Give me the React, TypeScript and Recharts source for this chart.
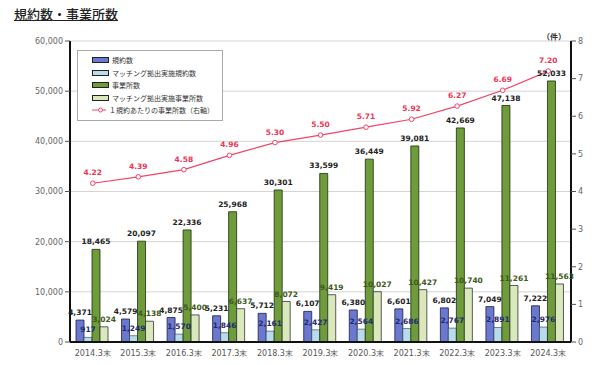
import React from 'react';
import {
  ComposedChart, Bar, Line, XAxis, YAxis, CartesianGrid, Legend, LabelList,
} from 'recharts';

// 年度（各年3月末）
const periods = ['2014.3末', '2015.3末', '2016.3末', '2017.3末', '2018.3末', '2019.3末', '2020.3末', '2021.3末', '2022.3末', '2023.3末', '2024.3末'];
const kiyakuCounts = [4371, 4579, 4875, 5231, 5712, 6107, 6380, 6601, 6802, 7049, 7222];
const matchingKiyaku = [917, 1249, 1570, 1846, 2161, 2427, 2564, 2686, 2767, 2891, 2976];
const officeCounts = [18465, 20097, 22336, 25968, 30301, 33599, 36449, 39081, 42669, 47138, 52033];
const matchingOffices = [3024, 4138, 5400, 6637, 8072, 9419, 10027, 10427, 10740, 11261, 11563];
const officesPerKiyaku = [4.22, 4.39, 4.58, 4.96, 5.3, 5.5, 5.71, 5.92, 6.27, 6.69, 7.2];

const leftTicks = [0, 10000, 20000, 30000, 40000, 50000, 60000];
const rightTicks = [0, 1, 2, 3, 4, 5, 6, 7, 8];

const data = periods.map((name, i) => ({
  name,
  kiyaku: kiyakuCounts[i],
  mKiyaku: matchingKiyaku[i],
  office: officeCounts[i],
  mOffice: matchingOffices[i],
  ratio: officesPerKiyaku[i],
}));

const FONT = '"DejaVu Sans", Verdana, sans-serif';
const JP = '"Noto Sans CJK JP", sans-serif';

const legendItems = [
  { label: '規約数', fill: '#6b78cf', type: 'bar' },
  { label: 'マッチング拠出実施規約数', fill: '#b9dcec', type: 'bar' },
  { label: '事業所数', fill: '#6e9c3a', type: 'bar' },
  { label: 'マッチング拠出実施事業所数', fill: '#d9e9bb', type: 'bar' },
  { label: '１規約あたりの事業所数（右軸）', fill: '#f0456a', type: 'line' },
];

function LegendBox() {
  return (
    <div style={{ border: '1px solid #aaa', background: '#fff', padding: '3px 8px 3px 14px', width: 122 }}>
      {legendItems.map((it) => (
        <div key={it.label} style={{ display: 'flex', alignItems: 'center', height: 12.5 }}>
          {it.type === 'bar' ? (
            <span style={{ display: 'inline-block', width: 15, height: 4, background: it.fill, border: '1px solid #222', marginRight: 3 }} />
          ) : (
            <svg width={17} height={6} style={{ marginRight: 3 }}>
              <line x1={0} y1={3} x2={17} y2={3} stroke={it.fill} strokeWidth={1} />
              <circle cx={8.5} cy={3} r={2} fill="#fff" stroke={it.fill} />
            </svg>
          )}
          <span style={{ fontFamily: JP, fontSize: 7, color: '#333', whiteSpace: 'nowrap' }}>{it.label}</span>
        </div>
      ))}
    </div>
  );
}

const fmt = (v: number) => v.toLocaleString('en-US');

export default function App() {
  const labelStyle = { fontFamily: FONT, fontSize: 7.5, fontWeight: 'bold' as const };
  return (
    <div style={{ position: 'absolute', left: 0, top: 0, width: 600, height: 365, background: '#fff' }}>
      <div style={{ position: 'absolute', left: 14, top: 4, fontFamily: JP, fontSize: 13, color: '#222', textDecoration: 'underline', fontWeight: 500 }}>
        規約数・事業所数
      </div>
      <div style={{ position: 'absolute', left: 542, top: 31, fontFamily: JP, fontSize: 8, fontWeight: 'bold', color: '#333' }}>（件）</div>
      <ComposedChart
        width={600}
        height={365}
        data={data}
        margin={{ top: 41, right: 5, left: 10, bottom: 3 }}
        barCategoryGap={6}
        barGap={0}
      >
        <CartesianGrid vertical={false} stroke="#d4d4d4" yAxisId="left" />
        <XAxis
          dataKey="name"
          tick={{ fill: '#555', fontSize: 8, fontFamily: FONT }}
          axisLine={{ stroke: '#111', strokeWidth: 2 }}
          tickLine={false}
          height={20}
          interval={0}
        />
        <XAxis xAxisId="top" orientation="top" dataKey="name" tick={false} tickLine={false} height={0} axisLine={{ stroke: '#111', strokeWidth: 2 }} />
        <YAxis
          yAxisId="left"
          domain={[0, 60000]}
          ticks={leftTicks}
          tickFormatter={fmt}
          tick={{ fill: '#666', fontSize: 8, fontFamily: FONT }}
          axisLine={{ stroke: '#111', strokeWidth: 2 }}
          tickLine={{ stroke: '#555' }}
          tickSize={5}
          width={60}
        />
        <YAxis
          yAxisId="right"
          orientation="right"
          domain={[0, 8]}
          ticks={rightTicks}
          tick={{ fill: '#666', fontSize: 8, fontFamily: FONT }}
          axisLine={{ stroke: '#111', strokeWidth: 2 }}
          tickLine={{ stroke: '#555' }}
          tickSize={5}
          width={24}
        />
        <Legend
          layout="vertical"
          verticalAlign="middle"
          align="center"
          content={() => <LegendBox />}
          wrapperStyle={{ position: 'absolute', left: 77, top: 50, width: 'auto' }}
        />
        <Bar yAxisId="left" dataKey="kiyaku" name="規約数" fill="#6b78cf" stroke="#1c1c4a" strokeWidth={0.8} isAnimationActive={false}>
          <LabelList dataKey="kiyaku" position="top" formatter={(v: any) => fmt(v)} style={{ ...labelStyle, fill: '#222' }} />
        </Bar>
        <Bar yAxisId="left" dataKey="mKiyaku" name="マッチング拠出実施規約数" fill="#b9dcec" stroke="#2a3a4a" strokeWidth={0.6} isAnimationActive={false}>
          <LabelList dataKey="mKiyaku" position="top" formatter={(v: any) => fmt(v)} style={{ ...labelStyle, fill: '#1d2c70' }} />
        </Bar>
        <Bar yAxisId="left" dataKey="office" name="事業所数" fill="#6e9c3a" stroke="#1d2c0c" strokeWidth={0.8} isAnimationActive={false}>
          <LabelList dataKey="office" position="top" formatter={(v: any) => fmt(v)} style={{ ...labelStyle, fill: '#222' }} />
        </Bar>
        <Bar yAxisId="left" dataKey="mOffice" name="マッチング拠出実施事業所数" fill="#d9e9bb" stroke="#333" strokeWidth={0.8} isAnimationActive={false}>
          <LabelList dataKey="mOffice" position="top" formatter={(v: any) => fmt(v)} style={{ ...labelStyle, fill: '#3c5a1a' }} />
        </Bar>
        <Line
          yAxisId="right"
          dataKey="ratio"
          name="１規約あたりの事業所数（右軸）"
          stroke="#f0456a"
          strokeWidth={1.2}
          dot={{ r: 2.3, fill: '#fff', stroke: '#f0456a', strokeWidth: 1 }}
          isAnimationActive={false}
        >
          <LabelList dataKey="ratio" position="top" offset={8} formatter={(v: any) => v.toFixed(2)} style={{ ...labelStyle, fill: '#ee3355' }} />
        </Line>
      </ComposedChart>
    </div>
  );
}
